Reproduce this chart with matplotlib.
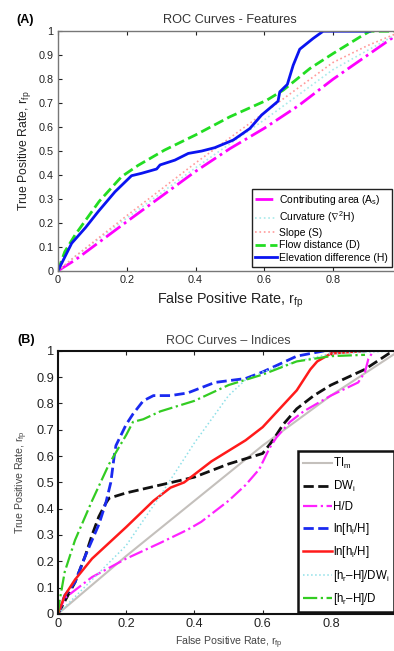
import matplotlib
matplotlib.use("Agg")
import matplotlib.pyplot as plt

plt.rcParams['font.family'] = ['Liberation Sans', 'DejaVu Sans']
plt.rcParams['mathtext.fontset'] = 'custom'
plt.rcParams['mathtext.rm'] = 'Liberation Sans'
plt.rcParams['mathtext.it'] = 'Liberation Sans'
plt.rcParams['mathtext.default'] = 'regular'

## (A) features
area_x = [0, 0.05, 0.2, 0.4, 0.5, 0.6, 0.7, 0.8, 0.9, 1.0]
area_y = [0, 0.045, 0.205, 0.415, 0.51, 0.595, 0.69, 0.80, 0.90, 1.0]

curv_x = [0, 0.05, 0.2, 0.4, 0.6, 0.8, 0.9, 1.0]
curv_y = [0, 0.06, 0.22, 0.43, 0.63, 0.84, 0.92, 1.0]

slope_x = [0, 0.05, 0.2, 0.4, 0.6, 0.8, 0.9, 1.0]
slope_y = [0, 0.06, 0.23, 0.45, 0.66, 0.87, 0.94, 1.0]

flow_x = [0, 0.02, 0.05, 0.12, 0.185, 0.233, 0.31, 0.4, 0.5, 0.607, 0.655,
          0.733, 0.8, 0.878, 0.907, 1.0]
flow_y = [0, 0.08, 0.15, 0.29, 0.393, 0.44, 0.504, 0.567, 0.643, 0.712, 0.754,
          0.845, 0.907, 0.976, 1.0, 1.0]

elev_x = [0, 0.04, 0.08, 0.117, 0.166, 0.214, 0.243, 0.287, 0.297, 0.34, 0.379,
          0.418, 0.456, 0.51, 0.558, 0.592, 0.64, 0.645, 0.667, 0.684, 0.703,
          0.742, 0.771, 0.907]
elev_y = [0, 0.115, 0.18, 0.247, 0.33, 0.397, 0.407, 0.425, 0.442, 0.462, 0.49,
          0.5, 0.514, 0.546, 0.594, 0.65, 0.708, 0.747, 0.778, 0.858, 0.925,
          0.97, 1.0, 1.0]

## (B) indices
ti_x = [0, 0.2, 0.4, 0.6, 0.8, 1.0]
ti_y = [0, 0.22, 0.43, 0.64, 0.83, 1.0]

dw_x = [0, 0.05, 0.08, 0.1, 0.12, 0.14, 0.15, 0.2, 0.3, 0.4, 0.5, 0.6, 0.63,
        0.66, 0.7, 0.75, 0.8, 0.9, 0.97, 1.0]
dw_y = [0, 0.12, 0.22, 0.3, 0.37, 0.42, 0.44, 0.46, 0.49, 0.52, 0.57, 0.61,
        0.66, 0.72, 0.78, 0.83, 0.87, 0.93, 0.99, 1.0]

hd_x = [0, 0.02, 0.04, 0.1, 0.2, 0.3, 0.38, 0.42, 0.5, 0.55, 0.59, 0.62, 0.64,
        0.68, 0.72, 0.8, 0.88, 0.9, 0.91, 0.92]
hd_y = [0, 0.06, 0.08, 0.14, 0.21, 0.27, 0.32, 0.35, 0.43, 0.49, 0.55, 0.63,
        0.67, 0.73, 0.77, 0.83, 0.88, 0.92, 0.97, 0.99]

lnb_x = [0, 0.02, 0.05, 0.08, 0.1, 0.12, 0.14, 0.155, 0.165, 0.17, 0.2, 0.22,
         0.25, 0.28, 0.33, 0.38, 0.42, 0.46, 0.55, 0.6, 0.65, 0.7, 0.78, 0.9]
lnb_y = [0, 0.07, 0.12, 0.22, 0.28, 0.34, 0.42, 0.5, 0.6, 0.64, 0.72, 0.76,
         0.81, 0.83, 0.83, 0.84, 0.86, 0.88, 0.895, 0.92, 0.95, 0.98, 1.0, 1.0]

lnr_x = [0, 0.02, 0.05, 0.1, 0.2, 0.28, 0.33, 0.37, 0.4, 0.45, 0.5, 0.55, 0.6,
         0.65, 0.7, 0.72, 0.74, 0.76, 0.8, 0.9]
lnr_y = [0, 0.07, 0.13, 0.21, 0.33, 0.43, 0.48, 0.5, 0.53, 0.58, 0.62, 0.66,
         0.71, 0.78, 0.85, 0.89, 0.93, 0.96, 0.99, 1.0]

hrdw_x = [0, 0.1, 0.2, 0.3, 0.4, 0.5, 0.55, 0.6, 0.7, 0.8, 1.0]
hrdw_y = [0, 0.13, 0.26, 0.45, 0.65, 0.83, 0.89, 0.92, 0.96, 0.99, 1.0]

hrd_x = [0, 0.005, 0.02, 0.05, 0.1, 0.15, 0.2, 0.22, 0.25, 0.3, 0.4, 0.5, 0.6,
         0.7, 0.8, 0.9]
hrd_y = [0, 0.05, 0.16, 0.28, 0.43, 0.57, 0.68, 0.73, 0.74, 0.77, 0.81, 0.87,
         0.91, 0.96, 0.98, 0.985]

yticks = [0, 0.1, 0.2, 0.3, 0.4, 0.5, 0.6, 0.7, 0.8, 0.9, 1]
ytick_labels = ['0', '0.1', '0.2', '0.3', '0.4', '0.5', '0.6', '0.7', '0.8', '0.9', '1']
xticks = [0, 0.2, 0.4, 0.6, 0.8, 1]
xtick_labels = ['0', '0.2', '0.4', '0.6', '0.8', '']   # "1" falls off the right edge


def style_axes(ax, spine_color, spine_width, tick_size):
    ax.set_xlim(0, 1)
    ax.set_ylim(0, 1)
    ax.set_xticks(xticks)
    ax.set_xticklabels(xtick_labels)
    ax.set_yticks(yticks)
    ax.set_yticklabels(ytick_labels)
    ax.tick_params(direction='in', top=True, right=True, length=3,
                   labelsize=tick_size, pad=3, colors='#222222')
    for s in ax.spines.values():
        s.set_color(spine_color)
        s.set_linewidth(spine_width)


fig = plt.figure(figsize=(3.94, 6.51), dpi=100)

## --- (A)
ax1 = fig.add_axes([0.147, 0.584, 0.873, 0.368])
ax1.plot(area_x, area_y, color='#ff00ff', ls='-.', lw=2.0, label='Contributing area (A$_s$)')
ax1.plot(curv_x, curv_y, color='#a8eaea', ls=':', lw=1.2, label='Curvature ($\\nabla^2$H)')
ax1.plot(slope_x, slope_y, color='#ff9a9a', ls=':', lw=1.2, label='Slope (S)')
ax1.plot(flow_x, flow_y, color='#22dd22', ls='--', lw=2.0, label='Flow distance (D)')
ax1.plot(elev_x, elev_y, color='#0a14f0', ls='-', lw=2.0, label='Elevation difference (H)')
style_axes(ax1, '#777777', 1.0, 7.8)
ax1.set_xlabel('False Positive Rate, r$_{fp}$', fontsize=10.4, color='#222222', labelpad=4)
ax1.set_ylabel('True Positive Rate, r$_{fp}$', fontsize=8.8, color='#222222', labelpad=4)
ax1.set_title('ROC Curves - Features', fontsize=9.2, color='#333333', pad=6)
ax1.text(-0.12, 1.035, '(A)', transform=ax1.transAxes, fontsize=9, fontweight='bold')
leg1 = ax1.legend(loc='lower left', bbox_to_anchor=(0.563, 0.017), fontsize=7.5,
                  handlelength=2.1, handletextpad=0.2, labelspacing=0.25,
                  borderpad=0.35, borderaxespad=0, frameon=True, fancybox=False,
                  framealpha=1)
leg1.get_frame().set_edgecolor('#222222')
leg1.get_frame().set_linewidth(1.0)

## --- (B)
ax2 = fig.add_axes([0.147, 0.057, 0.866, 0.404])
ax2.plot(ti_x, ti_y, color='#c4c0bc', ls='-', lw=1.5, label='TI$_m$')
ax2.plot(dw_x, dw_y, color='#111111', ls='--', lw=2.0, label='DW$_i$')
ax2.plot(hd_x, hd_y, color='#ff22ff', ls='-.', lw=1.6, label='H/D')
ax2.plot(lnb_x, lnb_y, color='#1a2af0', ls='--', lw=2.0, label='ln[h$_l$/H]')
ax2.plot(lnr_x, lnr_y, color='#ff1a1a', ls='-', lw=1.8, label='ln[h$_l$/H]')
ax2.plot(hrdw_x, hrdw_y, color='#8ee0e8', ls=':', lw=1.1, label='[h$_r$\u2013H]/DW$_i$')
ax2.plot(hrd_x, hrd_y, color='#33cc22', ls='-.', lw=1.6, label='[h$_r$\u2013H]/D')
style_axes(ax2, '#111111', 1.5, 9.2)
ax2.set_xlabel('False Positive Rate, r$_{fp}$', fontsize=7.6, color='#444444', labelpad=3)
ax2.set_ylabel('True Positive Rate, r$_{fp}$', fontsize=7.6, color='#444444', labelpad=4)
ax2.set_title('ROC Curves \u2013 Indices', fontsize=9, color='#444444', pad=5)
ax2.text(-0.12, 1.03, '(B)', transform=ax2.transAxes, fontsize=9, fontweight='bold')
leg2 = ax2.legend(loc='lower left', bbox_to_anchor=(0.703, 0.006), fontsize=8.3,
                  handlelength=2.5, handletextpad=0.1, labelspacing=0.65,
                  borderpad=0.45, borderaxespad=0, frameon=True, fancybox=False,
                  framealpha=1)
leg2.get_frame().set_edgecolor('#111111')
leg2.get_frame().set_linewidth(1.8)

fig.savefig('out.png', dpi=100)
